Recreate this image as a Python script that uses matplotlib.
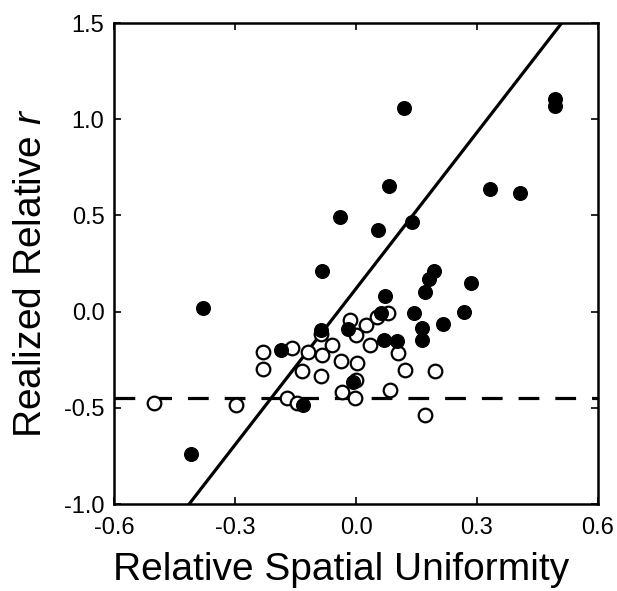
import numpy as np
import matplotlib
matplotlib.use('Agg')
import matplotlib.pyplot as plt

plt.rcParams['font.family'] = ['Liberation Sans', 'DejaVu Sans']
plt.rcParams['mathtext.fontset'] = 'custom'
plt.rcParams['mathtext.it'] = 'Liberation Sans:italic'
plt.rcParams['mathtext.rm'] = 'Liberation Sans'

# filled circles
filled_x = [-0.38, -0.41, -0.085, -0.04, 0.12, 0.082, 0.055, 0.14, 0.333, 0.406,
            0.493, 0.493, 0.286, 0.193, 0.182, 0.170, 0.073, 0.061, 0.143, 0.267,
            0.216, 0.163, 0.163, 0.101, 0.069, -0.020, -0.087, -0.187, -0.007, -0.131]
filled_y = [0.02, -0.74, 0.21, 0.49, 1.06, 0.655, 0.425, 0.468, 0.64, 0.617,
            1.107, 1.07, 0.148, 0.209, 0.17, 0.104, 0.08, -0.005, -0.005, 0.0,
            -0.063, -0.086, -0.145, -0.152, -0.145, -0.09, -0.094, -0.2, -0.367, -0.483]

# open circles
open_x = [-0.502, -0.297, -0.231, -0.230, -0.172, -0.147, -0.159, -0.118, -0.135, -0.085,
          -0.086, -0.087, -0.060, -0.038, -0.035, -0.015, 0.000, 0.002, 0.000, -0.002,
          0.025, 0.035, 0.051, 0.080, 0.084, 0.105, 0.122, 0.196, 0.171]
open_y = [-0.477, -0.485, -0.212, -0.300, -0.451, -0.477, -0.191, -0.208, -0.307, -0.226,
          -0.118, -0.335, -0.174, -0.257, -0.416, -0.044, -0.122, -0.269, -0.356, -0.451,
          -0.070, -0.174, -0.027, -0.006, -0.407, -0.217, -0.304, -0.309, -0.537]

# fit line and reference level
slope = 2.705
intercept = 0.120
ref_level = -0.446

fig = plt.figure(figsize=(6.17, 5.91), dpi=100)
ax = fig.add_axes([0.185, 0.147, 0.784, 0.814])

ax.plot(open_x, open_y, 'o', ms=9.8, mfc='white', mec='black', mew=1.6, zorder=3)
ax.plot(filled_x, filled_y, 'o', ms=9.8, mfc='black', mec='black', mew=1.0, zorder=4)

fx = np.array([-0.6, 0.6])
ax.plot(fx, slope * fx + intercept, color='black', lw=2.3, zorder=2)
ax.axhline(ref_level, color='black', lw=2.3, dashes=(6.5, 5.0), zorder=2)

ax.set_xlim(-0.6, 0.6)
ax.set_ylim(-1.0, 1.5)
ax.set_xticks([-0.6, -0.3, 0.0, 0.3, 0.6])
ax.set_yticks([-1.0, -0.5, 0.0, 0.5, 1.0, 1.5])
ax.set_xticklabels(['-0.6', '-0.3', '0.0', '0.3', '0.6'])
ax.set_yticklabels(['-1.0', '-0.5', '0.0', '0.5', '1.0', '1.5'])
ax.tick_params(direction='in', length=5, width=1.2, top=True, right=True,
               labelsize=17)
ax.tick_params(axis='x', pad=9)
ax.tick_params(axis='y', pad=7)
for s in ax.spines.values():
    s.set_linewidth(1.8)

ax.set_xlabel('Relative Spatial Uniformity', fontsize=28)
ax.set_ylabel('Realized Relative $\\it{r}$', fontsize=28)
ax.xaxis.set_label_coords(0.47, -0.1)
ax.yaxis.set_label_coords(-0.135, 0.48)

fig.savefig('out.png', dpi=100)
